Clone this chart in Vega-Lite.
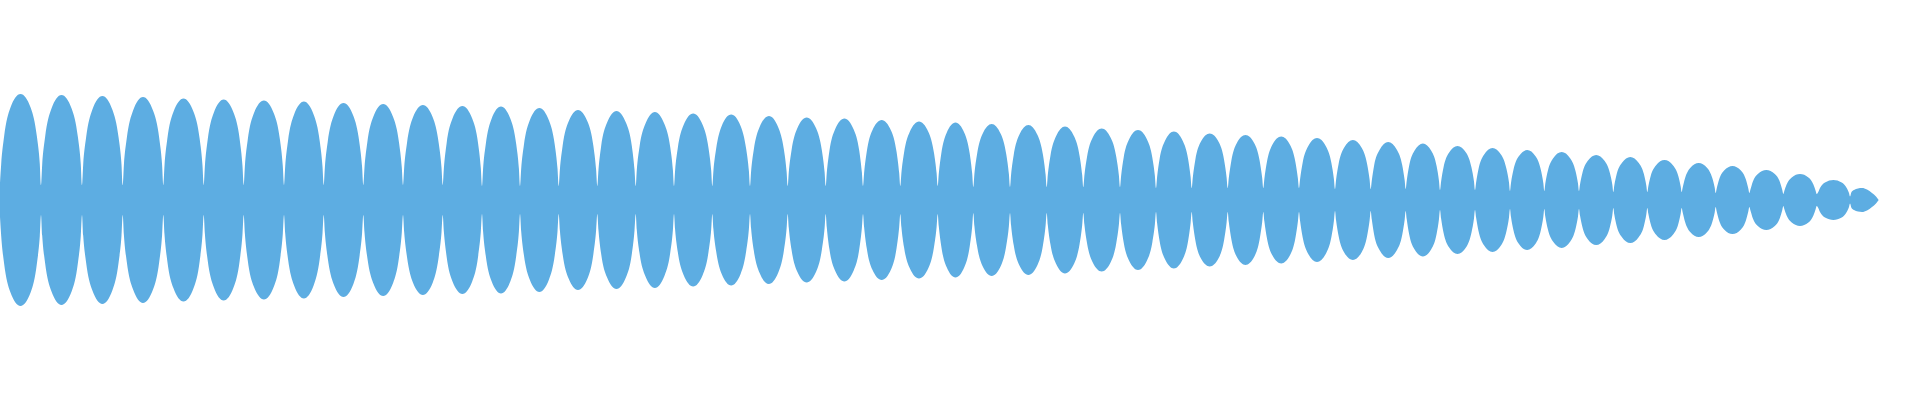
{
  "$schema": "https://vega.github.io/schema/vega-lite/v6.json",
  "width": 1920,
  "height": 400,
  "autosize": {"type": "fit", "contains": "padding"},
  "padding": 0,
  "background": "white",
  "config": {"view": {"stroke": null}},
  "data": {
    "values": [
      {"x": 0, "v": 34}, {"x": 1.2, "v": 72}, {"x": 4.1, "v": 127}, {"x": 10.3, "v": 184}, {"x": 20.5, "v": 212}, {"x": 30.8, "v": 184}, {"x": 36.9, "v": 127}, {"x": 39.8, "v": 72},
      {"x": 41, "v": 30}, {"x": 42.2, "v": 71}, {"x": 45.1, "v": 126}, {"x": 51.3, "v": 182}, {"x": 61.5, "v": 210}, {"x": 71.8, "v": 182}, {"x": 77.9, "v": 126}, {"x": 80.8, "v": 71},
      {"x": 82, "v": 30}, {"x": 83.2, "v": 71}, {"x": 86.1, "v": 125}, {"x": 92.2, "v": 180}, {"x": 102.4, "v": 208}, {"x": 112.5, "v": 180}, {"x": 118.6, "v": 125}, {"x": 121.5, "v": 71},
      {"x": 122.7, "v": 30}, {"x": 123.9, "v": 70}, {"x": 126.8, "v": 124}, {"x": 132.9, "v": 178}, {"x": 143, "v": 206}, {"x": 153.2, "v": 178}, {"x": 159.2, "v": 124}, {"x": 162.1, "v": 70},
      {"x": 163.3, "v": 30}, {"x": 164.5, "v": 69}, {"x": 167.3, "v": 122}, {"x": 173.4, "v": 176}, {"x": 183.5, "v": 203}, {"x": 193.6, "v": 176}, {"x": 199.7, "v": 122}, {"x": 202.5, "v": 69},
      {"x": 203.7, "v": 30}, {"x": 204.9, "v": 68}, {"x": 207.7, "v": 121}, {"x": 213.7, "v": 174}, {"x": 223.7, "v": 201}, {"x": 233.7, "v": 174}, {"x": 239.7, "v": 121}, {"x": 242.5, "v": 68},
      {"x": 243.7, "v": 30}, {"x": 244.9, "v": 68}, {"x": 247.7, "v": 120}, {"x": 253.8, "v": 173}, {"x": 263.9, "v": 199}, {"x": 273.9, "v": 173}, {"x": 280, "v": 120}, {"x": 282.8, "v": 68},
      {"x": 284, "v": 30}, {"x": 285.2, "v": 67}, {"x": 288, "v": 118}, {"x": 293.9, "v": 170}, {"x": 303.9, "v": 197}, {"x": 313.8, "v": 170}, {"x": 319.7, "v": 118}, {"x": 322.5, "v": 67},
      {"x": 323.7, "v": 30}, {"x": 324.9, "v": 66}, {"x": 327.7, "v": 116}, {"x": 333.6, "v": 168}, {"x": 343.5, "v": 194}, {"x": 353.4, "v": 168}, {"x": 359.3, "v": 116}, {"x": 362.1, "v": 66},
      {"x": 363.3, "v": 30}, {"x": 364.5, "v": 65}, {"x": 367.3, "v": 115}, {"x": 373.2, "v": 166}, {"x": 383.2, "v": 192}, {"x": 393.1, "v": 166}, {"x": 399, "v": 115}, {"x": 401.8, "v": 65},
      {"x": 403, "v": 30}, {"x": 404.2, "v": 65}, {"x": 407, "v": 114}, {"x": 412.9, "v": 165}, {"x": 422.9, "v": 190}, {"x": 432.8, "v": 165}, {"x": 438.7, "v": 114}, {"x": 441.5, "v": 65},
      {"x": 442.7, "v": 30}, {"x": 443.9, "v": 64}, {"x": 446.6, "v": 113}, {"x": 452.5, "v": 163}, {"x": 462.4, "v": 188}, {"x": 472.2, "v": 163}, {"x": 478.1, "v": 113}, {"x": 480.8, "v": 64},
      {"x": 482, "v": 28}, {"x": 483.1, "v": 63}, {"x": 485.8, "v": 112}, {"x": 491.5, "v": 162}, {"x": 501, "v": 187}, {"x": 510.5, "v": 162}, {"x": 516.2, "v": 112}, {"x": 518.9, "v": 63},
      {"x": 520, "v": 28}, {"x": 521.2, "v": 63}, {"x": 523.9, "v": 110}, {"x": 529.7, "v": 159}, {"x": 539.4, "v": 184}, {"x": 549, "v": 159}, {"x": 554.8, "v": 110}, {"x": 557.5, "v": 63},
      {"x": 558.7, "v": 28}, {"x": 559.9, "v": 61}, {"x": 562.6, "v": 108}, {"x": 568.4, "v": 156}, {"x": 578, "v": 180}, {"x": 587.7, "v": 156}, {"x": 593.4, "v": 108}, {"x": 596.1, "v": 61},
      {"x": 597.3, "v": 28}, {"x": 598.5, "v": 61}, {"x": 601.1, "v": 107}, {"x": 606.9, "v": 154}, {"x": 616.5, "v": 178}, {"x": 626.1, "v": 154}, {"x": 631.9, "v": 107}, {"x": 634.5, "v": 61},
      {"x": 635.7, "v": 28}, {"x": 636.8, "v": 60}, {"x": 639.5, "v": 106}, {"x": 645.3, "v": 152}, {"x": 654.9, "v": 176}, {"x": 664.4, "v": 152}, {"x": 670.2, "v": 106}, {"x": 672.9, "v": 60},
      {"x": 674, "v": 28}, {"x": 675.1, "v": 59}, {"x": 677.8, "v": 104}, {"x": 683.6, "v": 150}, {"x": 693.2, "v": 173}, {"x": 702.7, "v": 150}, {"x": 708.5, "v": 104}, {"x": 711.2, "v": 59},
      {"x": 712.3, "v": 28}, {"x": 713.4, "v": 58}, {"x": 716.1, "v": 102}, {"x": 721.7, "v": 148}, {"x": 731.2, "v": 171}, {"x": 740.6, "v": 148}, {"x": 746.2, "v": 102}, {"x": 748.9, "v": 58},
      {"x": 750, "v": 28}, {"x": 751.1, "v": 57}, {"x": 753.8, "v": 101}, {"x": 759.4, "v": 145}, {"x": 768.9, "v": 168}, {"x": 778.3, "v": 145}, {"x": 783.9, "v": 101}, {"x": 786.6, "v": 57},
      {"x": 787.7, "v": 28}, {"x": 788.8, "v": 56}, {"x": 791.5, "v": 99}, {"x": 797.2, "v": 143}, {"x": 806.7, "v": 165}, {"x": 816.2, "v": 143}, {"x": 821.9, "v": 99}, {"x": 824.6, "v": 56},
      {"x": 825.7, "v": 28}, {"x": 826.8, "v": 55}, {"x": 829.4, "v": 98}, {"x": 835, "v": 141}, {"x": 844.4, "v": 163}, {"x": 853.7, "v": 141}, {"x": 859.3, "v": 98}, {"x": 861.9, "v": 55},
      {"x": 863, "v": 28}, {"x": 864.1, "v": 54}, {"x": 866.7, "v": 96}, {"x": 872.3, "v": 139}, {"x": 881.7, "v": 160}, {"x": 891, "v": 139}, {"x": 896.6, "v": 96}, {"x": 899.2, "v": 54},
      {"x": 900.3, "v": 28}, {"x": 901.4, "v": 54}, {"x": 904, "v": 94}, {"x": 909.7, "v": 136}, {"x": 919, "v": 157}, {"x": 928.4, "v": 136}, {"x": 934, "v": 94}, {"x": 936.6, "v": 54},
      {"x": 937.7, "v": 28}, {"x": 938.8, "v": 53}, {"x": 941.3, "v": 93}, {"x": 946.6, "v": 134}, {"x": 955.5, "v": 155}, {"x": 964.4, "v": 134}, {"x": 969.7, "v": 93}, {"x": 972.2, "v": 53},
      {"x": 973.3, "v": 26}, {"x": 974.4, "v": 52}, {"x": 977, "v": 91}, {"x": 982.5, "v": 132}, {"x": 991.7, "v": 152}, {"x": 1000.8, "v": 132}, {"x": 1006.3, "v": 91}, {"x": 1008.9, "v": 52},
      {"x": 1010, "v": 26}, {"x": 1011.1, "v": 51}, {"x": 1013.7, "v": 90}, {"x": 1019.2, "v": 130}, {"x": 1028.4, "v": 150}, {"x": 1037.5, "v": 130}, {"x": 1043, "v": 90}, {"x": 1045.6, "v": 51},
      {"x": 1046.7, "v": 26}, {"x": 1047.8, "v": 50}, {"x": 1050.4, "v": 88}, {"x": 1055.9, "v": 127}, {"x": 1065, "v": 147}, {"x": 1074.2, "v": 127}, {"x": 1079.6, "v": 88}, {"x": 1082.2, "v": 50},
      {"x": 1083.3, "v": 26}, {"x": 1084.4, "v": 49}, {"x": 1087, "v": 86}, {"x": 1092.5, "v": 124}, {"x": 1101.7, "v": 143}, {"x": 1110.8, "v": 124}, {"x": 1116.3, "v": 86}, {"x": 1118.9, "v": 49},
      {"x": 1120, "v": 26}, {"x": 1121.1, "v": 48}, {"x": 1123.6, "v": 84}, {"x": 1129, "v": 121}, {"x": 1138, "v": 140}, {"x": 1147, "v": 121}, {"x": 1152.4, "v": 84}, {"x": 1154.9, "v": 48},
      {"x": 1156, "v": 24}, {"x": 1157.1, "v": 46}, {"x": 1159.6, "v": 82}, {"x": 1164.9, "v": 118}, {"x": 1173.9, "v": 137}, {"x": 1182.8, "v": 118}, {"x": 1188.1, "v": 82}, {"x": 1190.6, "v": 46},
      {"x": 1191.7, "v": 24}, {"x": 1192.8, "v": 45}, {"x": 1195.3, "v": 80}, {"x": 1200.7, "v": 116}, {"x": 1209.7, "v": 133}, {"x": 1218.7, "v": 116}, {"x": 1224.1, "v": 80}, {"x": 1226.6, "v": 45},
      {"x": 1227.7, "v": 24}, {"x": 1228.8, "v": 44}, {"x": 1231.3, "v": 78}, {"x": 1236.6, "v": 113}, {"x": 1245.5, "v": 130}, {"x": 1254.4, "v": 113}, {"x": 1259.7, "v": 78}, {"x": 1262.2, "v": 44},
      {"x": 1263.3, "v": 24}, {"x": 1264.4, "v": 43}, {"x": 1266.9, "v": 76}, {"x": 1272.2, "v": 110}, {"x": 1281.2, "v": 127}, {"x": 1290.1, "v": 110}, {"x": 1295.4, "v": 76}, {"x": 1297.9, "v": 43},
      {"x": 1299, "v": 24}, {"x": 1300.1, "v": 42}, {"x": 1302.6, "v": 74}, {"x": 1308, "v": 107}, {"x": 1317, "v": 124}, {"x": 1326, "v": 107}, {"x": 1331.4, "v": 74}, {"x": 1333.9, "v": 42},
      {"x": 1335, "v": 22}, {"x": 1336.1, "v": 41}, {"x": 1338.6, "v": 72}, {"x": 1343.9, "v": 104}, {"x": 1352.9, "v": 120}, {"x": 1361.8, "v": 104}, {"x": 1367.1, "v": 72}, {"x": 1369.6, "v": 41},
      {"x": 1370.7, "v": 22}, {"x": 1371.8, "v": 39}, {"x": 1374.2, "v": 70}, {"x": 1379.5, "v": 100}, {"x": 1388.2, "v": 116}, {"x": 1397, "v": 100}, {"x": 1402.2, "v": 70}, {"x": 1404.7, "v": 39},
      {"x": 1405.7, "v": 22}, {"x": 1406.7, "v": 38}, {"x": 1409.1, "v": 68}, {"x": 1414.3, "v": 98}, {"x": 1422.9, "v": 113}, {"x": 1431.4, "v": 98}, {"x": 1436.6, "v": 68}, {"x": 1439, "v": 38},
      {"x": 1440, "v": 20}, {"x": 1441.1, "v": 37}, {"x": 1443.5, "v": 65}, {"x": 1448.8, "v": 94}, {"x": 1457.5, "v": 108}, {"x": 1466.3, "v": 94}, {"x": 1471.5, "v": 65}, {"x": 1474, "v": 37},
      {"x": 1475, "v": 20}, {"x": 1476.1, "v": 35}, {"x": 1478.5, "v": 62}, {"x": 1483.8, "v": 90}, {"x": 1492.5, "v": 104}, {"x": 1501.3, "v": 90}, {"x": 1506.5, "v": 62}, {"x": 1509, "v": 35},
      {"x": 1510, "v": 18}, {"x": 1511, "v": 34}, {"x": 1513.4, "v": 60}, {"x": 1518.6, "v": 87}, {"x": 1527.2, "v": 100}, {"x": 1535.7, "v": 87}, {"x": 1540.9, "v": 60}, {"x": 1543.3, "v": 34},
      {"x": 1544.3, "v": 18}, {"x": 1545.3, "v": 33}, {"x": 1547.8, "v": 58}, {"x": 1553, "v": 83}, {"x": 1561.7, "v": 96}, {"x": 1570.3, "v": 83}, {"x": 1575.5, "v": 58}, {"x": 1578, "v": 33},
      {"x": 1579, "v": 18}, {"x": 1580, "v": 31}, {"x": 1582.4, "v": 54}, {"x": 1587.6, "v": 78}, {"x": 1596.2, "v": 90}, {"x": 1604.7, "v": 78}, {"x": 1609.9, "v": 54}, {"x": 1612.3, "v": 31},
      {"x": 1613.3, "v": 16}, {"x": 1614.3, "v": 29}, {"x": 1616.7, "v": 52}, {"x": 1621.8, "v": 74}, {"x": 1630.3, "v": 86}, {"x": 1638.8, "v": 74}, {"x": 1643.9, "v": 52}, {"x": 1646.3, "v": 29},
      {"x": 1647.3, "v": 16}, {"x": 1648.3, "v": 27}, {"x": 1650.7, "v": 48}, {"x": 1655.9, "v": 69}, {"x": 1664.5, "v": 80}, {"x": 1673.1, "v": 69}, {"x": 1678.3, "v": 48}, {"x": 1680.7, "v": 27},
      {"x": 1681.7, "v": 16}, {"x": 1682.7, "v": 25}, {"x": 1685.1, "v": 44}, {"x": 1690.2, "v": 64}, {"x": 1698.7, "v": 74}, {"x": 1707.2, "v": 64}, {"x": 1712.3, "v": 44}, {"x": 1714.7, "v": 25},
      {"x": 1715.7, "v": 14}, {"x": 1716.7, "v": 23}, {"x": 1719.1, "v": 41}, {"x": 1724.1, "v": 59}, {"x": 1732.5, "v": 68}, {"x": 1740.9, "v": 59}, {"x": 1745.9, "v": 41}, {"x": 1748.3, "v": 23},
      {"x": 1749.3, "v": 14}, {"x": 1750.3, "v": 20}, {"x": 1752.7, "v": 36}, {"x": 1757.8, "v": 52}, {"x": 1766.3, "v": 60}, {"x": 1774.8, "v": 52}, {"x": 1779.9, "v": 36}, {"x": 1782.3, "v": 20},
      {"x": 1783.3, "v": 12}, {"x": 1784.3, "v": 18}, {"x": 1786.6, "v": 31}, {"x": 1791.7, "v": 45}, {"x": 1800, "v": 52}, {"x": 1808.4, "v": 45}, {"x": 1813.4, "v": 31}, {"x": 1815.7, "v": 18},
      {"x": 1816.7, "v": 12}, {"x": 1817.7, "v": 14}, {"x": 1820, "v": 24}, {"x": 1825, "v": 35}, {"x": 1833.4, "v": 40}, {"x": 1841.7, "v": 35}, {"x": 1846.7, "v": 24}, {"x": 1849, "v": 14},
      {"x": 1850, "v": 7}, {"x": 1851.5, "v": 16}, {"x": 1854, "v": 20}, {"x": 1858, "v": 23}, {"x": 1862, "v": 24}, {"x": 1867, "v": 21}, {"x": 1872, "v": 14}, {"x": 1876, "v": 7}, {"x": 1878.7, "v": 0}
    ]
  },
  "mark": {"type": "area", "interpolate": "monotone", "color": "#5dade2"},
  "encoding": {
    "x": {
      "field": "x",
      "type": "quantitative",
      "scale": {"domain": [0, 1920], "nice": false, "zero": false},
      "axis": null
    },
    "y": {
      "field": "v",
      "type": "quantitative",
      "stack": "center",
      "scale": {"domain": [-94, 306], "nice": false, "zero": false},
      "axis": null
    }
  }
}
